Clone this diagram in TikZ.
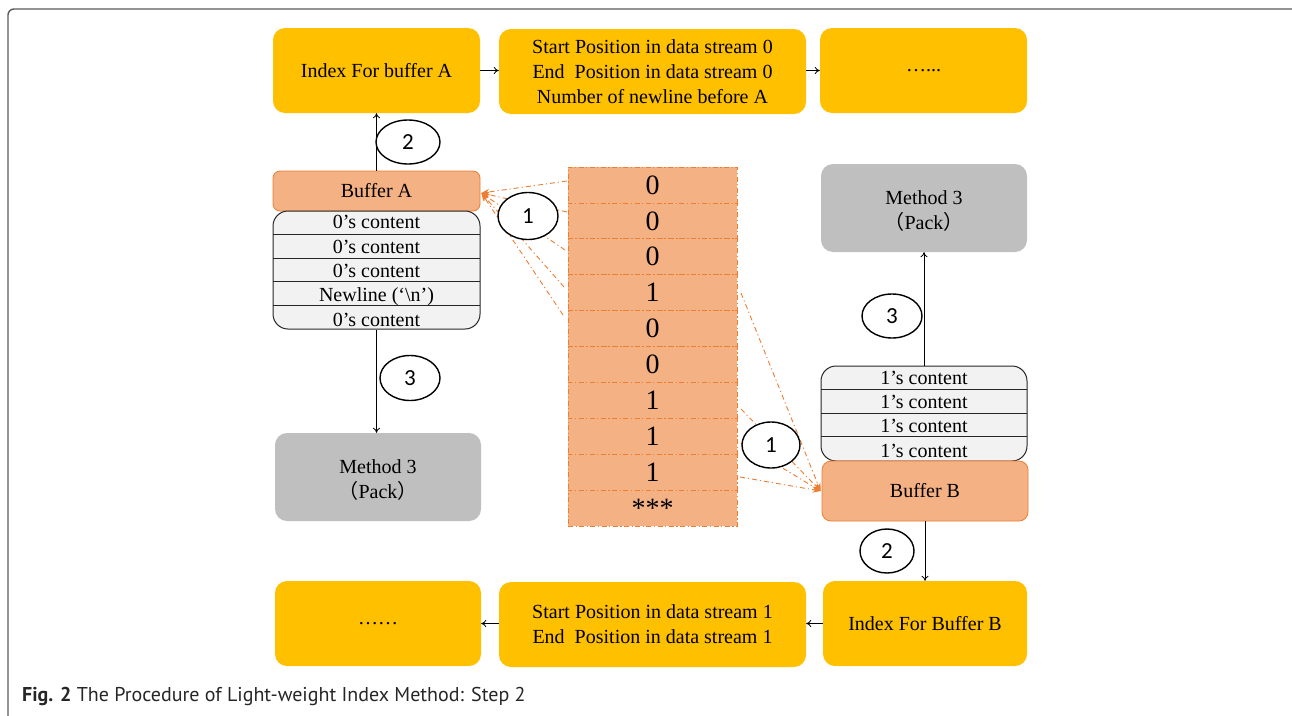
\documentclass[tikz,border=0pt]{standalone}
\usepackage{fontspec}
\setmainfont{Liberation Serif}
\newfontfamily\capfont{PT Sans}
\newfontfamily\numfont{Carlito}
\newfontfamily\cjkfont{Noto Sans CJK SC}
\usetikzlibrary{arrows.meta,shapes.geometric}
\definecolor{ygold}{HTML}{FFC000}
\definecolor{obuf}{HTML}{F4B183}
\definecolor{oedge}{HTML}{ED7D31}
\definecolor{gbox}{HTML}{BFBFBF}
\definecolor{lgray}{HTML}{F2F2F2}
\definecolor{frame}{HTML}{5A5A5A}
\begin{document}
\begin{tikzpicture}[x=1pt,y=-1pt,
  txt/.style={font=\fontsize{20}{25}\selectfont},
  ybox/.style={txt,fill=ygold,rounded corners=12pt,inner sep=0pt,align=center},
  gboxs/.style={txt,fill=gbox,rounded corners=12pt,inner sep=0pt,align=center},
  bufbox/.style={txt,fill=obuf,draw=oedge,line width=0.8pt,rounded corners=7pt,inner sep=0pt},
  listbox/.style={fill=lgray,draw=black!85,line width=1pt,rounded corners=15pt,inner sep=0pt},
  rowtxt/.style={txt,inner sep=0pt,anchor=base},
  cell/.style={fill=obuf,draw=oedge,line width=0.8pt,dash pattern=on 5pt off 2.5pt on 1.2pt off 2.5pt,
    minimum width=169pt,minimum height=35.9pt,inner sep=0pt,font=\fontsize{28}{30}\selectfont},
  numell/.style={ellipse,draw=black,line width=1.4pt,fill=white,inner sep=0pt,font=\numfont\fontsize{23}{25}\selectfont},
  arr/.style={-{To[length=5pt,width=7pt]},line width=0.8pt,black},
  darr/.style={-{Stealth[length=8pt,width=6pt]},oedge,line width=0.9pt,dash pattern=on 5pt off 3pt on 1.2pt off 3pt}]
\useasboundingbox (0,0) rectangle (1292,715);
\draw[frame,line width=1.4pt,rounded corners=6pt] (8,716) -- (8,9) -- (1293,9);

% top row
\node[ybox,minimum width=207pt,minimum height=85pt] (ia) at (376.5,70.5) {Index For buffer A};
\node[ybox,minimum width=307pt,minimum height=85pt] (sa) at (652.5,71.5) {Start Position in data stream 0\\End\ \ Position in data stream 0\\Number of newline before A};
\node[ybox,minimum width=207pt,minimum height=85pt] (da) at (923.5,70.5) {…...};
\draw[arr] (ia) -- (sa.west |- ia);
\draw[arr] (sa.east |- da) -- (da);

% left buffer A and list
\node[bufbox,minimum width=207pt,minimum height=40pt] (ba) at (376.5,191) {Buffer A};
\node[listbox,minimum width=207pt,minimum height=118pt] (la) at (376.5,270) {};
\foreach \y in {234.6,258.2,281.8,305.4} \draw[black!85,line width=1pt] (273,\y) -- (480,\y);
\node[rowtxt] (la1) at (376.5,228.5) {0’s content};
\node[rowtxt] (la2) at (376.5,253) {0’s content};
\node[rowtxt] (la3) at (376.5,277) {0’s content};
\node[rowtxt] (la4) at (376.5,301.5) {Newline (‘\textbackslash n’)};
\node[rowtxt] (la5) at (376.5,326.5) {0’s content};

\node[gboxs,minimum width=206pt,minimum height=88pt] (ml) at (378,477) {};
\node[txt,align=center,inner sep=0pt] (mlt) at (378,480) {Method 3\\{\cjkfont （}Pack{\cjkfont ）}};
\draw[arr] (ba.north) -- (ia.south);
\draw[arr] (la.south) -- (la.south |- ml.north);

% column
\foreach \i/\t in {1/0,2/0,3/0,4/1,5/0,6/0,7/1,8/1,9/1}
  \node[cell] (c\i) at (652.5,{167+35.9*(\i-0.5)}) {\t};
\node[cell] (c10) at (652.5,{167+35.9*9.5}) {\raisebox{-0.22em}{***}};

% right side
\node[gboxs,minimum width=206pt,minimum height=88pt] (mr) at (924,208) {};
\node[txt,align=center,inner sep=0pt] (mrt) at (924,211) {Method 3\\{\cjkfont （}Pack{\cjkfont ）}};
\node[listbox,minimum width=206pt,minimum height=95pt] (lb) at (924,413.5) {};
\foreach \y in {389.5,413,436.5} \draw[black!85,line width=1pt] (821,\y) -- (1027,\y);
\node[rowtxt] (lb1) at (924,384) {1’s content};
\node[rowtxt] (lb2) at (924,408) {1’s content};
\node[rowtxt] (lb3) at (924,432) {1’s content};
\node[rowtxt] (lb4) at (924,457) {1’s content};
\node[bufbox,minimum width=206pt,minimum height=60pt,rounded corners=9pt] (bb) at (925,491) {Buffer B};
\draw[arr] (lb.north) -- (mr.south);

% bottom row
\node[ybox,minimum width=204pt,minimum height=85pt] (ib) at (925,623.5) {Index For Buffer B};
\node[ybox,minimum width=307pt,minimum height=85pt] (sb) at (652.5,624.5) {Start Position in data stream 1\\End\ \ Position in data stream 1};
\node[ybox,minimum width=206pt,minimum height=85pt] (db) at (378,623.5) {……};
\draw[arr] (bb.south) -- (ib.north);
\draw[arr] (ib) -- (sb.east |- ib);
\draw[arr] (sb.west |- db) -- (db);

% dashed arrows to buffer A
\coordinate (l1) at (567,181);
\coordinate (l2) at (567,212);
\coordinate (l3) at (565,250);
\coordinate (l4) at (564,287);
\coordinate (l5) at (563,315);
\foreach \p in {l1,l2,l3,l4,l5} \draw[darr] (\p) -- ([xshift=1pt,yshift=-2pt]ba.east);
% dashed arrows to buffer B
\coordinate (r1) at (741,293);
\coordinate (r2) at (741,409);
\coordinate (r3) at (741,443);
\coordinate (r4) at (740,477);
\foreach \p in {r1,r2,r3,r4} \draw[darr] (\p) -- ([xshift=-1pt]bb.west);

% numbered ellipses
\node[numell,minimum width=64pt,minimum height=44pt] (e2a) at (408,142) {2};
\node[numell,minimum width=60pt,minimum height=47pt] (e1a) at (528,216) {1};
\node[numell,minimum width=60pt,minimum height=45pt] (e3a) at (410,378) {3};
\node[numell,minimum width=60pt,minimum height=44pt] (e3b) at (892,316) {3};
\node[numell,minimum width=58pt,minimum height=46pt] (e1b) at (771,445) {1};
\node[numell,minimum width=54pt,minimum height=44pt] (e2b) at (887,551) {2};

% caption
\node[anchor=base west,inner sep=0pt,font=\capfont\fontsize{20}{22}\selectfont,text=black!85] (cap) at (22,701) {\textbf{Fig. 2} The Procedure of Light-weight Index Method: Step 2};
\end{tikzpicture}
\end{document}
